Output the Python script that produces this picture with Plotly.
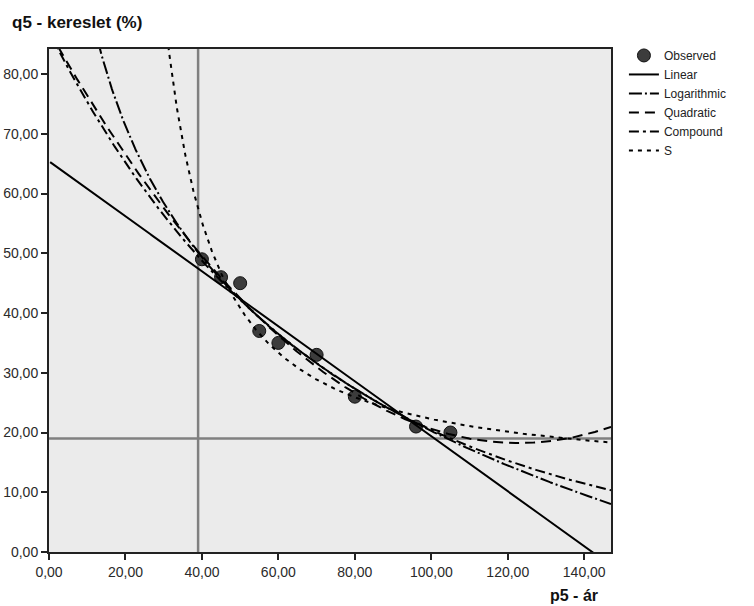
import numpy as np
import plotly.graph_objects as go

price = [40, 45, 50, 55, 60, 70, 80, 96, 105]
demand = [49, 46, 45, 37, 35, 33, 26, 21, 20]

# Reference lines
ref_price = 39
ref_demand = 19

x_ticks = [0, 20, 40, 60, 80, 100, 120, 140]
y_ticks = [0, 10, 20, 30, 40, 50, 60, 70, 80]
x_range = [0, 147]
y_range = [0, 84.2]

x = np.array(price, dtype=float)
y = np.array(demand, dtype=float)

# SPSS-style curve estimation fits
grid = np.linspace(0.3, x_range[1], 800)
lin = np.polyfit(x, y, 1)
y_lin = np.polyval(lin, grid)
lg = np.polyfit(np.log(x), y, 1)
y_log = np.polyval(lg, np.log(grid))
quad = np.polyfit(x, y, 2)
y_quad = np.polyval(quad, grid)
comp = np.polyfit(x, np.log(y), 1)
y_comp = np.exp(np.polyval(comp, grid))
sfit = np.polyfit(1.0 / x, np.log(y), 1)
y_s = np.exp(np.clip(np.polyval(sfit, 1.0 / grid), None, 8))


def clipped(v):
    v = np.array(v, dtype=float)
    v[v > 400] = np.nan
    return v


fig = go.Figure()
fig.add_trace(go.Scatter(x=price, y=demand, mode="markers", name="Observed",
                         marker=dict(size=13, color="#3c3c3c",
                                     line=dict(color="#111111", width=1))))
styles = [
    ("Linear", y_lin, "solid"),
    ("Logarithmic", y_log, "13px,3px,2px,3px"),
    ("Quadratic", y_quad, "10px,6px"),
    ("Compound", y_comp, "10px,4px,3px,4px"),
    ("S", y_s, "4px,5px"),
]
for name, yy, dash in styles:
    fig.add_trace(go.Scatter(x=grid, y=clipped(yy), mode="lines", name=name,
                             line=dict(color="black", width=2, dash=dash),
                             connectgaps=False))

fig.add_shape(type="line", xref="x", yref="paper", x0=ref_price, x1=ref_price,
              y0=0, y1=1, line=dict(color="#808080", width=2.5), layer="below")
fig.add_shape(type="line", xref="paper", yref="y", x0=0, x1=1, y0=ref_demand,
              y1=ref_demand, line=dict(color="#808080", width=2.5), layer="below")

axis_common = dict(showgrid=False, zeroline=False, showline=True, linecolor="#222222",
                   linewidth=2, mirror=True, ticks="outside", ticklen=6, tickwidth=2,
                   tickcolor="#222222", tickformat=".2f", automargin=False,
                   tickfont=dict(family="Liberation Sans, Arial", size=14, color="#2a2a2a"))

fig.update_layout(
    width=754, height=606,
    margin=dict(l=49, r=143, t=49, b=54, autoexpand=False),
    paper_bgcolor="white", plot_bgcolor="#ebebeb",
    separators=",.",
    font=dict(family="Liberation Sans, Arial", size=12, color="#222222"),
    xaxis=dict(range=x_range, tickvals=x_ticks, **axis_common),
    yaxis=dict(range=y_range, tickvals=y_ticks, **axis_common),
    showlegend=True,
    legend=dict(x=1.023, y=1.016, xanchor="left", yanchor="top",
                font=dict(size=12, color="#222222"), bgcolor="rgba(0,0,0,0)",
                tracegroupgap=0, itemwidth=30),
    annotations=[
        dict(text="<b>q5 - kereslet (%)</b>", xref="paper", yref="paper",
             x=-0.069, y=1.053, xanchor="left", yanchor="middle", showarrow=False,
             font=dict(size=17, color="#111111")),
        dict(text="<b>p5 - ár</b>", xref="paper", yref="paper",
             x=0.98, y=-0.087, xanchor="right", yanchor="middle", showarrow=False,
             font=dict(size=16, color="#111111")),
    ],
)

fig.write_html("out.html", config={"displayModeBar": False},
               post_script="document.body.style.margin='0px';")
